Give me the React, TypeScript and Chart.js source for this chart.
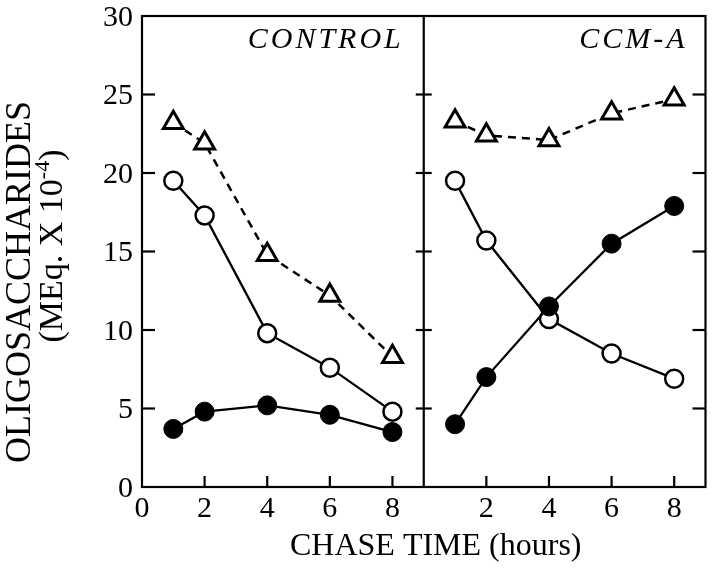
import React, { useEffect, useRef } from "react";
import { Chart, registerables } from "chart.js";

Chart.register(...registerables);

// ---- data ----
const HOURS = [1, 2, 4, 6, 8];
const CONTROL_OPEN = [19.5, 17.3, 9.8, 7.6, 4.8];
const CONTROL_FILLED = [3.7, 4.8, 5.2, 4.6, 3.5];
const CONTROL_TRIANGLE = [23.2, 21.9, 14.8, 12.2, 8.3];
const CCMA_OPEN = [19.5, 15.7, 10.7, 8.5, 6.9];
const CCMA_FILLED = [4.0, 7.0, 11.5, 15.5, 17.9];
const CCMA_TRIANGLE = [23.3, 22.4, 22.1, 23.8, 24.7];

const X_TICKS_CONTROL = [0, 2, 4, 6, 8];
const X_TICKS_CCMA = [2, 4, 6, 8];
const Y_TICKS = [0, 5, 10, 15, 20, 25, 30];
const X_RANGE = [0, 9];
const Y_RANGE = [0, 30];

const PANEL_LABELS = ["CONTROL", "CCM-A"];
const X_TITLE = "CHASE TIME (hours)";
const Y_TITLE_LINE1 = "OLIGOSACCHARIDES";
const Y_TITLE_LINE2 = "(MEq. X 10";
const Y_TITLE_SUP = "-4";
const Y_TITLE_END = ")";

const SERIF = '"Liberation Serif", "Times New Roman", serif';

const pts = (xs: number[], ys: number[]) => xs.map((x, i) => ({ x, y: ys[i] }));

const openStyle = {
  borderColor: "#000",
  borderWidth: 2.3,
  pointStyle: "circle",
  pointRadius: 9,
  pointBackgroundColor: "#fff",
  pointBorderColor: "#000",
  pointBorderWidth: 2.5,
  order: 1,
};
const filledStyle = {
  borderColor: "#000",
  borderWidth: 2.3,
  pointStyle: "circle",
  pointRadius: 9.5,
  pointBackgroundColor: "#000",
  pointBorderColor: "#000",
  pointBorderWidth: 1,
  order: 0,
};
const triStyle = {
  borderColor: "#000",
  borderWidth: 2.5,
  borderDash: [8, 6],
  pointStyle: "triangle",
  pointRadius: 11.5,
  pointBackgroundColor: "#fff",
  pointBorderColor: "#000",
  pointBorderWidth: 3,
  order: 2,
};

const framePlugin = {
  id: "framePlugin",
  afterDraw(chart: any) {
    const { ctx, chartArea: a, scales } = chart;
    const x1 = scales.x1;
    const x2 = scales.x2;
    const y = scales.y;
    ctx.save();
    ctx.strokeStyle = "#000";
    ctx.lineWidth = 2.2;
    ctx.lineCap = "butt";
    const line = (xa: number, ya: number, xb: number, yb: number) => {
      ctx.beginPath();
      ctx.moveTo(xa, ya);
      ctx.lineTo(xb, yb);
      ctx.stroke();
    };
    // frame + divider
    ctx.strokeRect(a.left, a.top, a.right - a.left, a.bottom - a.top);
    const dx = x1.right;
    line(dx, a.top, dx, a.bottom);
    // y ticks (inward)
    Y_TICKS.forEach((v) => {
      if (v <= Y_RANGE[0] || v >= Y_RANGE[1]) return;
      const py = y.getPixelForValue(v);
      line(a.left, py, a.left + 13, py);
      line(a.right - 13, py, a.right, py);
      line(dx - 8, py, dx + 8, py);
    });
    // x ticks (inward)
    X_TICKS_CONTROL.forEach((v) => {
      if (v <= X_RANGE[0]) return;
      const px = x1.getPixelForValue(v);
      line(px, a.bottom, px, a.bottom - 11);
    });
    X_TICKS_CCMA.forEach((v) => {
      if (v <= X_RANGE[0]) return;
      const px = x2.getPixelForValue(v);
      line(px, a.bottom, px, a.bottom - 11);
    });

    ctx.fillStyle = "#000";
    // panel labels
    ctx.font = `italic 30px ${SERIF}`;
    (ctx as any).letterSpacing = "3px";
    ctx.textAlign = "right";
    ctx.textBaseline = "alphabetic";
    ctx.fillText(PANEL_LABELS[0], x1.right - 20, a.top + 32);
    ctx.fillText(PANEL_LABELS[1], x2.right - 18, a.top + 32);
    (ctx as any).letterSpacing = "0px";

    // x title
    ctx.font = `32px ${SERIF}`;
    ctx.textAlign = "center";
    ctx.fillText(X_TITLE, (a.left + a.right) / 2 + 12, 555);

    // y title (rotated)
    ctx.save();
    ctx.translate(30, 282);
    ctx.rotate(-Math.PI / 2);
    ctx.font = `36px ${SERIF}`;
    ctx.textAlign = "center";
    ctx.fillText(Y_TITLE_LINE1, 0, 0);
    ctx.restore();

    ctx.save();
    ctx.translate(62, 246);
    ctx.rotate(-Math.PI / 2);
    ctx.textAlign = "left";
    const mainFont = `34px ${SERIF}`;
    const supFont = `22px ${SERIF}`;
    ctx.font = mainFont;
    const w1 = ctx.measureText(Y_TITLE_LINE2).width;
    const w3 = ctx.measureText(Y_TITLE_END).width;
    ctx.font = supFont;
    const w2 = ctx.measureText(Y_TITLE_SUP).width;
    const W = w1 + w2 + w3;
    let cx = -W / 2;
    ctx.font = mainFont;
    ctx.fillText(Y_TITLE_LINE2, cx, 0);
    cx += w1;
    ctx.font = supFont;
    ctx.fillText(Y_TITLE_SUP, cx, -13);
    cx += w2;
    ctx.font = mainFont;
    ctx.fillText(Y_TITLE_END, cx, 0);
    ctx.restore();

    ctx.restore();
  },
};

const tickFont = { family: SERIF, size: 30 };

export default function App() {
  const canvasRef = useRef<HTMLCanvasElement | null>(null);

  useEffect(() => {
    const canvas = canvasRef.current;
    if (!canvas) return;
    const xScale = (ticks: number[]) => ({
      type: "linear",
      min: X_RANGE[0],
      max: X_RANGE[1],
      position: "bottom",
      stack: "panels",
      stackWeight: 1,
      afterBuildTicks: (s: any) => {
        s.ticks = ticks.map((v) => ({ value: v }));
      },
      ticks: {
        font: tickFont,
        color: "#000",
        padding: 4,
        maxRotation: 0,
        autoSkip: false,
        callback: (v: any) => String(v),
      },
      grid: { display: false, drawTicks: false },
      border: { display: false },
      afterFit: (s: any) => {
        s.height = 81;
        s.paddingLeft = 0;
        s.paddingRight = 0;
      },
    });

    const chart = new Chart(canvas, {
      type: "line",
      data: {
        datasets: [
          { ...openStyle, xAxisID: "x1", yAxisID: "y", data: pts(HOURS, CONTROL_OPEN) },
          { ...filledStyle, xAxisID: "x1", yAxisID: "y", data: pts(HOURS, CONTROL_FILLED) },
          { ...triStyle, xAxisID: "x1", yAxisID: "y", data: pts(HOURS, CONTROL_TRIANGLE) },
          { ...openStyle, xAxisID: "x2", yAxisID: "y", data: pts(HOURS, CCMA_OPEN) },
          { ...filledStyle, xAxisID: "x2", yAxisID: "y", data: pts(HOURS, CCMA_FILLED) },
          { ...triStyle, xAxisID: "x2", yAxisID: "y", data: pts(HOURS, CCMA_TRIANGLE) },
        ] as any,
      },
      options: {
        animation: false,
        responsive: true,
        maintainAspectRatio: false,
        layout: { padding: { top: 16, right: 7, left: 0, bottom: 0 } },
        plugins: { legend: { display: false }, tooltip: { enabled: false } },
        elements: { line: { tension: 0 } },
        scales: {
          x1: xScale(X_TICKS_CONTROL) as any,
          x2: xScale(X_TICKS_CCMA) as any,
          y: {
            type: "linear",
            min: Y_RANGE[0],
            max: Y_RANGE[1],
            position: "left",
            afterBuildTicks: (s: any) => {
              s.ticks = Y_TICKS.map((v) => ({ value: v }));
            },
            ticks: {
              font: tickFont,
              color: "#000",
              padding: 9,
              labelOffset: 2,
              callback: (v: any) => String(v),
            },
            grid: { display: false, drawTicks: false },
            border: { display: false },
            afterFit: (s: any) => {
              s.width = 142;
              s.paddingTop = 0;
              s.paddingBottom = 0;
            },
          } as any,
        },
      },
      plugins: [framePlugin],
    });
    return () => chart.destroy();
  }, []);

  return (
    <div style={{ position: "absolute", left: 0, top: 0, width: 720, height: 568, background: "#fff" }}>
      <canvas ref={canvasRef} />
    </div>
  );
}
